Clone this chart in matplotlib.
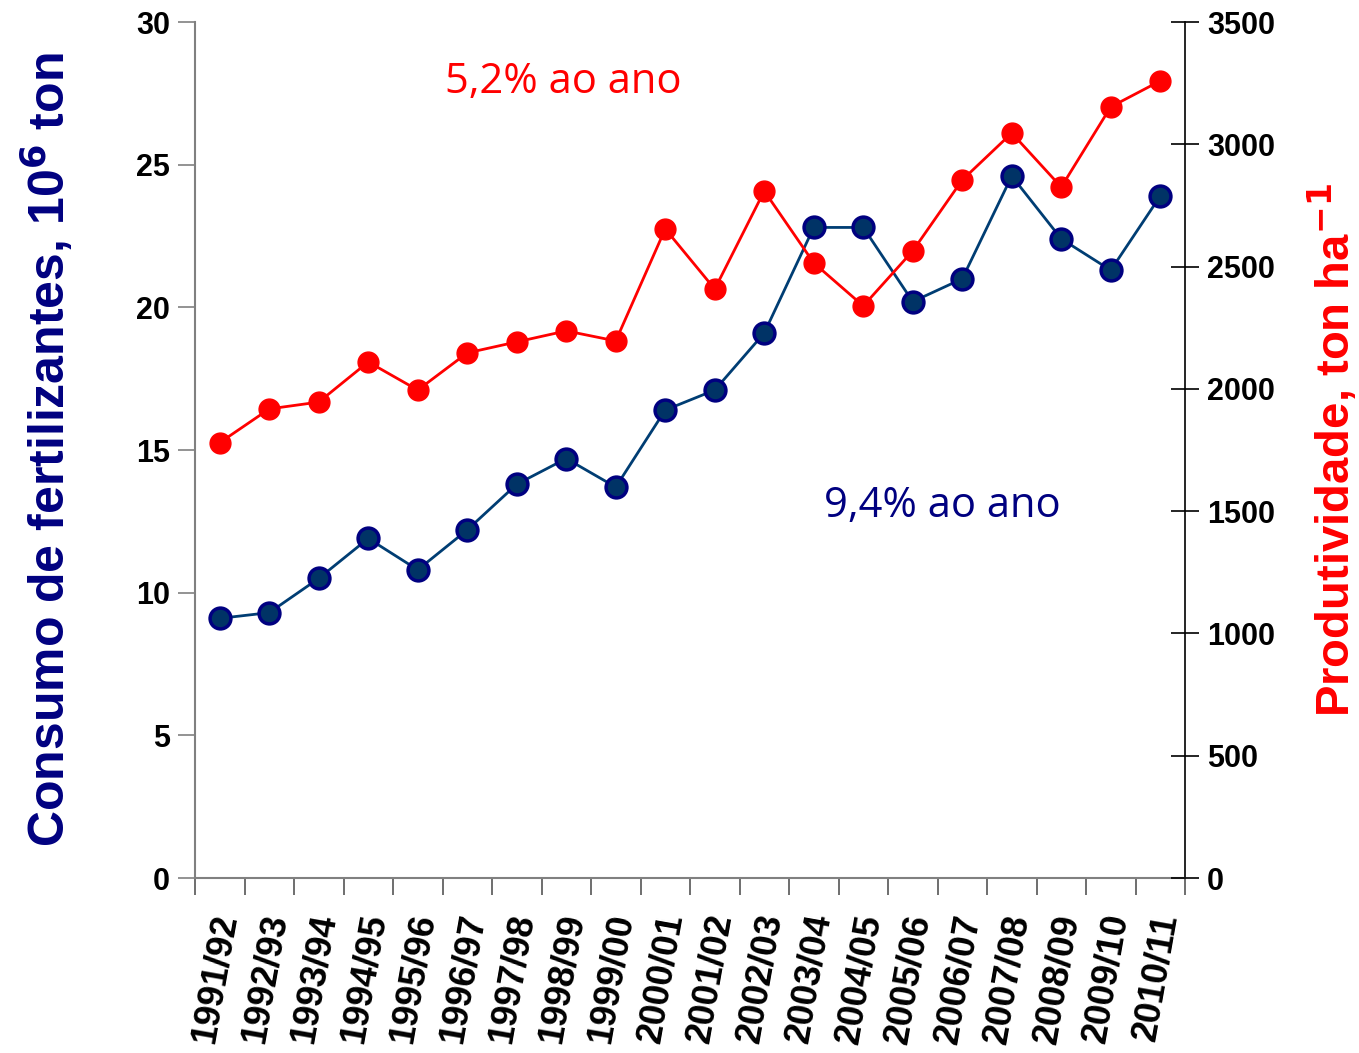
import matplotlib
matplotlib.use("Agg")
import matplotlib.pyplot as plt
import matplotlib.transforms as mtransforms
import numpy as np

safras = ["1991/92", "1992/93", "1993/94", "1994/95", "1995/96", "1996/97",
          "1997/98", "1998/99", "1999/00", "2000/01", "2001/02", "2002/03",
          "2003/04", "2004/05", "2005/06", "2006/07", "2007/08", "2008/09",
          "2009/10", "2010/11"]
consumo = [9.1, 9.3, 10.5, 11.9, 10.8, 12.2, 13.8, 14.7, 13.7, 16.4,
           17.1, 19.1, 22.8, 22.8, 20.2, 21.0, 24.6, 22.4, 21.3, 23.9]
produtividade = [1780, 1918, 1946, 2110, 1995, 2147, 2192, 2237, 2196, 2654,
                 2408, 2809, 2515, 2339, 2564, 2854, 3046, 2825, 3153, 3259]

plt.rcParams["font.family"] = ["Liberation Sans", "DejaVu Sans"]

fig = plt.figure(figsize=(13.59, 10.53), dpi=100)
ax = fig.add_axes([195 / 1359, 1 - 878 / 1053, 990 / 1359, 856 / 1053])
ax2 = ax.twinx()

x = np.arange(len(safras))
ax.plot(x, consumo, color="#003d73", lw=2, marker="o", ms=15,
        mfc="#003366", mec="#000080", mew=2.5, zorder=3)
ax2.plot(x, produtividade, color="#ff0000", lw=2, marker="o", ms=15,
         mfc="#ff0000", mec="#ff0000", zorder=3)

ax.set_xlim(-0.5, len(safras) - 0.5)
ax.set_ylim(0, 30)
ax2.set_ylim(0, 3500)
ax.set_yticks(np.arange(0, 31, 5))
ax2.set_yticks(np.arange(0, 3501, 500))

# category axis: ticks on boundaries, labels at centers
ax.set_xticks(np.arange(-0.5, len(safras), 1))
ax.set_xticklabels([])
ax.set_xticks(x, minor=True)
ax.set_xticklabels(safras, minor=True)
ax.tick_params(axis="x", which="minor", length=0, pad=26, labelsize=26,
               labelrotation=80)
offset = mtransforms.ScaledTranslation(0.07, 0, fig.dpi_scale_trans)
for lab in ax.xaxis.get_minorticklabels():
    lab.set_fontweight("bold")
    lab.set_ha("right")
    lab.set_va("center")
    lab.set_rotation_mode("anchor")
    lab.set_transform(lab.get_transform() + offset)
ax.tick_params(axis="x", which="major", direction="out", length=12,
               width=1.2, color="#555555")

ax.tick_params(axis="y", direction="out", length=12, width=1.2,
               color="#808080", labelsize=22, pad=6)
ax2.tick_params(axis="y", direction="inout", length=20, width=1.2,
                color="black", labelsize=22, pad=6)
for lab in ax.get_yticklabels() + ax2.get_yticklabels():
    lab.set_fontweight("bold")

ax.spines["top"].set_visible(False)
ax2.spines["top"].set_visible(False)
ax2.spines["right"].set_visible(False)
ax.spines["right"].set_visible(True)
ax.spines["right"].set_color("black")
ax.spines["right"].set_linewidth(1.2)
ax.spines["left"].set_color("#808080")
ax.spines["left"].set_linewidth(1.5)
ax.spines["bottom"].set_color("#808080")
ax.spines["bottom"].set_linewidth(1.5)
ax2.spines["left"].set_visible(False)
ax2.spines["bottom"].set_visible(False)

ax.set_ylabel("Consumo de fertilizantes, 10$^{\\mathbf{6}}$ ton",
              color="#000080", fontsize=36, fontweight="bold", labelpad=44)
ax2.set_ylabel("Produtividade, ton ha$^{\\mathbf{-1}}$", color="#ff0000",
               fontsize=34, fontweight="bold", labelpad=22)

ax.text(4.55, 27.9, "5,2% ao ano", color="#ff0000", fontsize=30,
        family="Open Sans", va="center", ha="left")
ax.text(12.2, 13.05, "9,4% ao ano", color="#000080", fontsize=30,
        family="Open Sans", va="center", ha="left")

fig.savefig("out.png", dpi=100)
plt.close(fig)
